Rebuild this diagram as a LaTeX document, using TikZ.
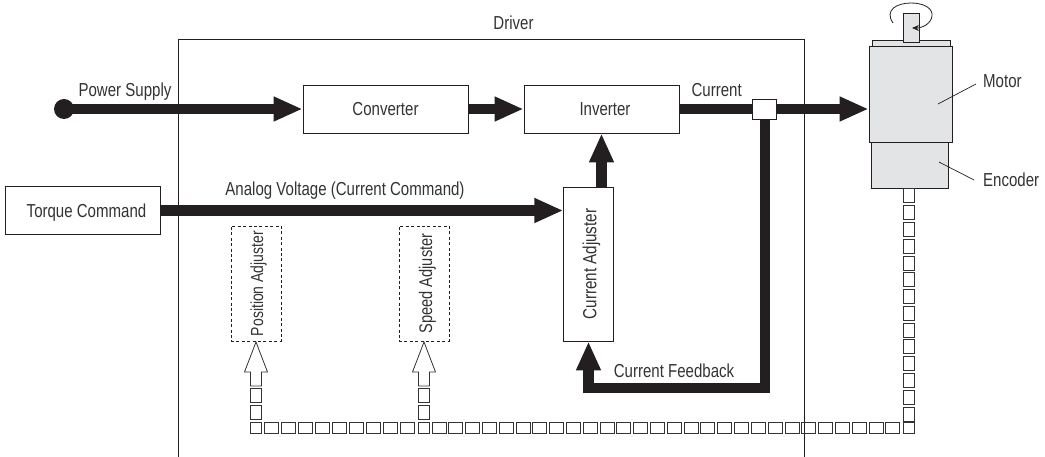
\documentclass[tikz,border=0pt]{standalone}
\usepackage{fontspec}
\setmainfont[FakeStretch=0.8]{Liberation Sans}
\usetikzlibrary{arrows.meta}
\definecolor{ink}{HTML}{231F20}
\definecolor{txt}{HTML}{333333}
\definecolor{motorgray}{HTML}{E3E4E6}
\tikzset{
  x=1bp,y=-1bp,
  lbl/.style={inner sep=0pt,text=txt,font=\fontsize{18.8bp}{20bp}\selectfont,text height=13.6bp,text depth=0pt},
  rotbox/.style={draw=ink,line width=0.9bp,fill=white,inner sep=0pt,text=txt,font=\fontsize{18.3bp}{20bp}\selectfont},
  box/.style={rotbox,font=\fontsize{18.8bp}{20bp}\selectfont,text height=13.6bp,text depth=0pt},
  dashbox/.style={rotbox,dash pattern=on 3bp off 2.4bp},
  flow/.style={draw=ink,line width=10.5bp,-{Triangle[length=29bp,width=23bp]}},
  sq/.style={draw=txt,line width=1bp,fill=none,inner sep=0pt,minimum width=14bp,minimum height=11bp},
  sqv/.style={draw=txt,line width=1bp,fill=none,inner sep=0pt,minimum width=11bp,minimum height=14bp},
  hollow/.style={draw=txt,line width=0.8bp,fill=white,line join=miter},
  part/.style={draw=ink,line width=0.9bp,fill=motorgray},
  leader/.style={draw=ink,line width=0.7bp},
}
\begin{document}
\begin{tikzpicture}
\useasboundingbox (0,0) rectangle (1045,457);
% driver frame
\draw[draw=ink,line width=0.9bp] (178,457) -- (178,39.5) -- (804,39.5) -- (804,457);
\node[lbl] (driver) at (513.5,22.7) {Driver};
% main boxes
\node[box,minimum width=165bp,minimum height=48bp] (conv) at (385.5,109) {Converter};
\node[box,minimum width=155bp,minimum height=48bp] (inv) at (601.5,109) {\hspace*{7bp}Inverter};
\node[box,minimum width=155bp,minimum height=48bp] (torque) at (82.5,210.5) {\hspace*{8bp}Torque Command};
\node[rotbox,font=\fontsize{19bp}{20bp}\selectfont,minimum width=49.5bp,minimum height=154bp] (curr) at (588.5,264) {\hspace*{6bp}\rotatebox{90}{Current Adjuster}};
\node[dashbox,font=\fontsize{17.5bp}{20bp}\selectfont,minimum width=50bp,minimum height=115bp] (pos) at (256,283.5) {\hspace*{5bp}\rotatebox{90}{Position Adjuster}};
\node[dashbox,minimum width=50bp,minimum height=115bp] (spd) at (424,283.5) {\hspace*{7bp}\rotatebox{90}{Speed Adjuster}};
% motor
\node[part,minimum width=78bp,minimum height=5bp] (plate) at (911,43.5) {};
\node[part,minimum width=16bp,minimum height=29bp] (shaft) at (911,27.5) {};
\node[part,minimum width=77bp,minimum height=46bp] (enc) at (909.5,165) {};
\node[part,minimum width=83bp,minimum height=96bp] (motor) at (910.5,94) {};
\node[lbl,anchor=west] (motorl) at (983,80.7) {Motor};
\node[lbl,anchor=west] (encl) at (983,180) {Encoder};
\coordinate (ml) at (938,104); \coordinate (el) at (939,162);
\draw[leader] (ml) -- (976,84);
\draw[leader] (el) -- (974,180);
% rotation mark
\coordinate (rotstart) at (893,23);
\draw[draw=ink,line width=0.8bp,-{Stealth[length=7bp,width=6bp]}] (rotstart) .. controls (884,10) and (897,3) .. (911,3) .. controls (925,3) and (933,9) .. (932,16) .. controls (931,24) and (922,28) .. (912,28);
% dot and flows
\coordinate (src) at (64,109);
\node[circle,fill=ink,inner sep=0pt,minimum size=20bp] (dot) at (src) {};
\draw[flow] (dot.center) -- (conv.west);
\draw[flow] (conv.east) -- (inv.west);
\draw[flow] (inv.east) -- (motor.west |- inv.east);
\draw[flow] (torque.east) -- (torque.east -| curr.west);
\draw[flow] (curr.north -| inv.south) -- (inv.south);
\coordinate (fb1) at (765,388); \coordinate (fb2) at (588.5,388);
\node[box,minimum width=24bp,minimum height=20bp] (junc) at (764,109) {};
\draw[flow] (junc.south -| fb1) -- (fb1) -- (fb2) -- (curr.south);
% labels
\node[lbl] (pwr) at (125,89.7) {Power Supply};
\node[lbl] (analog) at (345,188.4) {Analog Voltage (Current Command)};
\node[lbl] (cur) at (716.7,89.5) {Current};
\node[lbl] (fbl) at (674,370.8) {Current Feedback};
% encoder chain
\foreach \i in {0,...,13} {
  \pgfmathsetmacro{\yy}{196+16.77*\i}
  \node[sqv] (v\i) at (908.5,\yy) {};
}
\node[sqv,minimum height=11bp] (corner) at (908.5,428.5) {};
\foreach \i in {0,...,27} {
  \pgfmathsetmacro{\xx}{439+16.81*\i}
  \node[sq] (ra\i) at (\xx,428.5) {};
}
\node[sqv,minimum height=11bp] (rs) at (424,428.5) {};
\foreach \i in {0,...,8} {
  \pgfmathsetmacro{\xx}{271+17*\i}
  \node[sq] (rb\i) at (\xx,428.5) {};
}
\node[sqv,minimum height=11bp] (rp) at (256,428.5) {};
\foreach \c in {256,424} {
  \node[sqv] at (\c,396) {};
  \node[sqv] at (\c,413) {};
  \draw[hollow] (\c-5.5,386) -- (\c-5.5,372) -- (\c-11.5,372) -- (\c,342) -- (\c+11.5,372) -- (\c+5.5,372) -- (\c+5.5,386) -- cycle;
}
\end{tikzpicture}
\end{document}
